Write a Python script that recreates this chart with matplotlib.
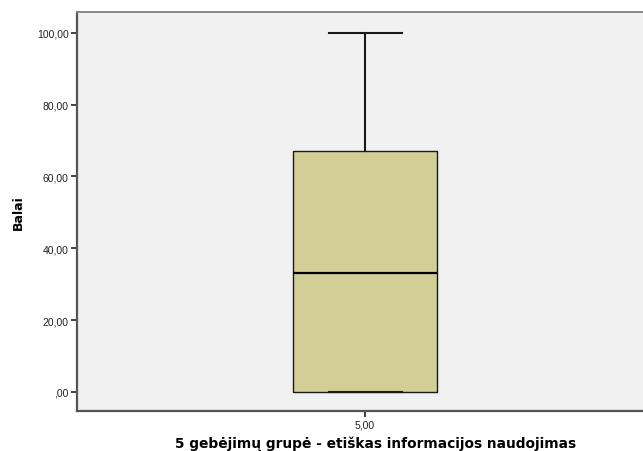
import matplotlib
matplotlib.use("Agg")
import matplotlib.pyplot as plt

categories = ["5,00"]
q1 = [0.0]
median = [33.0]
q3 = [67.0]
whisker_low = [0.0]
whisker_high = [100.0]
yticks = [0, 20, 40, 60, 80, 100]
ytick_labels = [",00", "20,00", "40,00", "60,00", "80,00", "100,00"]

plt.rcParams['font.family'] = ['Liberation Sans', 'DejaVu Sans']

fig = plt.figure(figsize=(6.43, 4.52), dpi=100)
ax = fig.add_axes([77/643, 40/452, 566/643, 399/452])
ax.set_facecolor('#F0F1F0')

stats = []
for i, c in enumerate(categories):
    stats.append(dict(label=c, q1=q1[i], med=median[i], q3=q3[i],
                      whislo=whisker_low[i], whishi=whisker_high[i], fliers=[]))

ax.bxp(stats, positions=[1], widths=0.254, showfliers=False, patch_artist=True,
       boxprops=dict(facecolor='#D2CE96', edgecolor='#1a1a1a', linewidth=1.0),
       medianprops=dict(color='#000000', linewidth=1.6),
       whiskerprops=dict(color='#1a1a1a', linewidth=1.5),
       capprops=dict(color='#1a1a1a', linewidth=1.5),
       capwidths=0.129)

ax.set_xlim(0.491, 1.491)
ax.set_ylim(-5.3, 105.8)
ax.set_yticks(yticks)
ax.set_yticklabels(ytick_labels)
ax.set_xticks([1])
ax.set_xticklabels(categories)
ax.tick_params(axis='both', labelsize=7.5, colors='#222222', length=4, width=1.2, pad=2)
for s in ['left', 'bottom']:
    ax.spines[s].set_color('#555555')
    ax.spines[s].set_linewidth(1.6)
ax.spines['top'].set_color('#888888')
ax.spines['top'].set_linewidth(1.4)
ax.spines['right'].set_visible(False)

ax.set_ylabel('Balai', fontsize=9, fontweight='bold', labelpad=9,
              family=['DejaVu Sans'])
ax.set_xlabel('5 gebėjimų grupė - etiškas informacijos naudojimas', fontsize=9.9,
              fontweight='bold', family=['DejaVu Sans'])
ax.xaxis.set_label_coords(0.528, -0.062)

fig.savefig('out.png', dpi=100, facecolor='white')
